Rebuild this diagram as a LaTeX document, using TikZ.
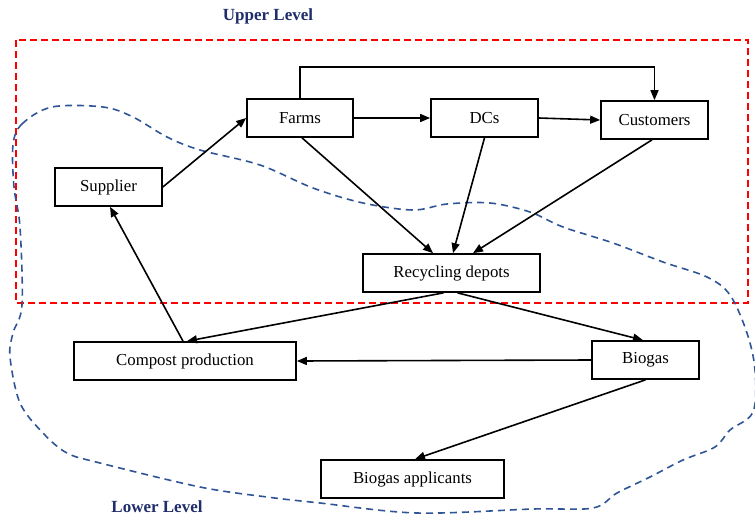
\documentclass[tikz,border=0pt]{standalone}
\usepackage{fontspec}
\setmainfont{Liberation Serif}
\usetikzlibrary{arrows.meta}
\definecolor{navy}{HTML}{1F2D6B}
\definecolor{curveblue}{HTML}{2F5597}
\begin{document}
\begin{tikzpicture}[x=1pt,y=-1pt,
  box/.style={draw,line width=1.7pt,inner sep=0pt,minimum height=38pt,font=\fontsize{16.8}{18}\selectfont},
  arr/.style={line width=1.6pt,-{Triangle[length=10pt,width=8pt]}},
  lvl/.style={text=navy,font=\fontsize{17}{18}\selectfont\bfseries}]
\useasboundingbox (0,0) rectangle (755,517);
% regions
\draw[red,line width=1.6pt,dash pattern=on 7pt off 4pt] (16,40) rectangle (748,303);
\draw[curveblue,line width=1.6pt,dash pattern=on 7pt off 5pt] plot[smooth cycle,tension=0.55] coordinates {
 (13,145) (22,124) (52,107) (103,107) (133,117) (167,137) (200,150) (260,165)
 (313,188) (363,203) (413,210) (447,204) (490,203) (530,212) (563,227) (613,243)
 (663,262) (707,277) (730,295) (747,333) (755,370) (753,412) (730,430)
 (715,447) (683,460) (650,477) (617,493) (593,508) (533,509) (417,513) (320,503)
 (267,497) (200,487) (100,463) (67,453) (43,433) (20,403) (10,357) (13,333)
 (22,305) (20,227) (14,187)};
% nodes
\node[box,minimum width=106pt] (farms) at (300,118) {Farms};
\node[box,minimum width=107pt] (dcs) at (484.5,118) {DCs};
\node[box,minimum width=107pt] (cust) at (654.5,120) {Customers};
\node[box,minimum width=107pt] (supp) at (108.5,187) {Supplier};
\node[box,minimum width=177pt] (rec) at (451.5,273) {Recycling depots};
\node[box,minimum width=222pt] (comp) at (185,361) {Compost production};
\node[box,minimum width=107pt] (bio) at (645.5,360) {Biogas};
\node[box,minimum width=183pt] (app) at (412.5,479) {Biogas applicants};
\node[lvl] (upper) at (268,16) {Upper Level};
\node[lvl] (lower) at (157,507) {Lower Level};
% connectors
\draw[arr] (supp.east) -- (farms.west);
\draw[arr] (farms.east) -- (dcs.west);
\draw[arr] (dcs.east) -- (cust.west);
\draw[arr] (farms.north) -- ++(0,-31) -| (cust.north);
\draw[arr] ([xshift=2pt]farms.south) -- ([xshift=-18.5pt]rec.north);
\draw[arr] (dcs.south) -- ([xshift=1.5pt]rec.north);
\draw[arr] ([xshift=-2.5pt]cust.south) -- ([xshift=21.5pt]rec.north);
\draw[arr] ([xshift=-8pt]rec.south) -- ([xshift=2pt]comp.north);
\draw[arr] ([xshift=6pt]rec.south) -- ([xshift=-2.5pt]bio.north);
\draw[arr] ([xshift=-2pt]comp.north) -- ([xshift=1.5pt]supp.south);
\draw[arr] (bio.west) -- (comp.east);
\draw[arr] (bio.south) -- ([xshift=2.5pt]app.north);
\end{tikzpicture}
\end{document}
